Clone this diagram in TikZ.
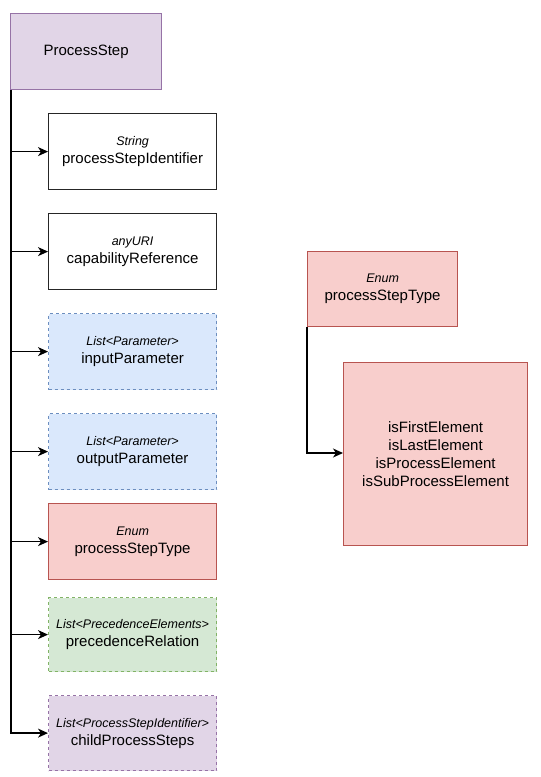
\documentclass[tikz,border=0pt]{standalone}
\usepackage{fontspec}
\setmainfont{Liberation Sans}
\usetikzlibrary{arrows.meta}
\definecolor{purpfill}{HTML}{E1D5E7}\definecolor{purpline}{HTML}{9673A6}
\definecolor{bluefill}{HTML}{DAE8FC}\definecolor{blueline}{HTML}{6C8EBF}
\definecolor{redfill}{HTML}{F8CECC}\definecolor{redline}{HTML}{B85450}
\definecolor{greenfill}{HTML}{D5E8D4}\definecolor{greenline}{HTML}{82B366}
\tikzset{
  box/.style={draw, line width=1.2pt, minimum width=168pt, minimum height=76pt, inner sep=0pt,
    align=center, font=\fontsize{15}{18}\selectfont, anchor=north west},
  plainbox/.style={box, draw=black!85, fill=white},
  bluebox/.style={box, draw=blueline, fill=bluefill, dash pattern=on 3pt off 3pt},
  redbox/.style={box, draw=redline, fill=redfill},
  greenbox/.style={box, draw=greenline, fill=greenfill, dash pattern=on 3pt off 3pt},
  purpbox/.style={box, draw=purpline, fill=purpfill, dash pattern=on 3pt off 3pt},
  conn/.style={line width=1.3pt, -{Stealth[length=10pt,width=9pt,inset=3pt]}}
}
\newcommand{\ptype}[1]{{\fontsize{12.5}{15}\selectfont\itshape #1}}
\begin{document}
\begin{tikzpicture}[x=1pt,y=-1pt]
\useasboundingbox (0,0) rectangle (541,777);
% root element
\node[box, draw=purpline, fill=purpfill, minimum width=151pt] (root) at (10,13) {ProcessStep};
% attributes
\node[plainbox] (a1) at (48,113) {\ptype{String}\\processStepIdentifier};
\node[plainbox] (a2) at (48,213) {\ptype{anyURI}\\capabilityReference};
\node[bluebox] (a3) at (48,313) {\ptype{List<Parameter>}\\inputParameter};
\node[bluebox] (a4) at (48,413) {\ptype{List<Parameter>}\\outputParameter};
\node[redbox] (a5) at (48,503) {\ptype{Enum}\\processStepType};
\node[greenbox, minimum height=74pt] (a6) at (48,597) {\ptype{List<PrecedenceElements>}\\precedenceRelation};
\node[purpbox, minimum height=75pt] (a7) at (48,695) {\ptype{List<ProcessStepIdentifier>}\\childProcessSteps};
% enum values
\node[redbox, minimum width=150pt, minimum height=75pt] (en) at (307,251) {\ptype{Enum}\\processStepType};
\node[redbox, minimum width=184pt, minimum height=183pt] (vals) at (343,362)
  {isFirstElement\\isLastElement\\isProcessElement\\isSubProcessElement};
% connectors from the root's left edge
\coordinate (trunk) at ([xshift=1pt]root.south west);
\foreach \n in {a1,a2,a3,a4,a5,a6,a7}{
  \draw[conn] (trunk) |- (\n.west);
}
\coordinate (etrunk) at (en.south west);
\draw[conn] (etrunk) |- (vals.west |- 0,453);
\end{tikzpicture}
\end{document}
